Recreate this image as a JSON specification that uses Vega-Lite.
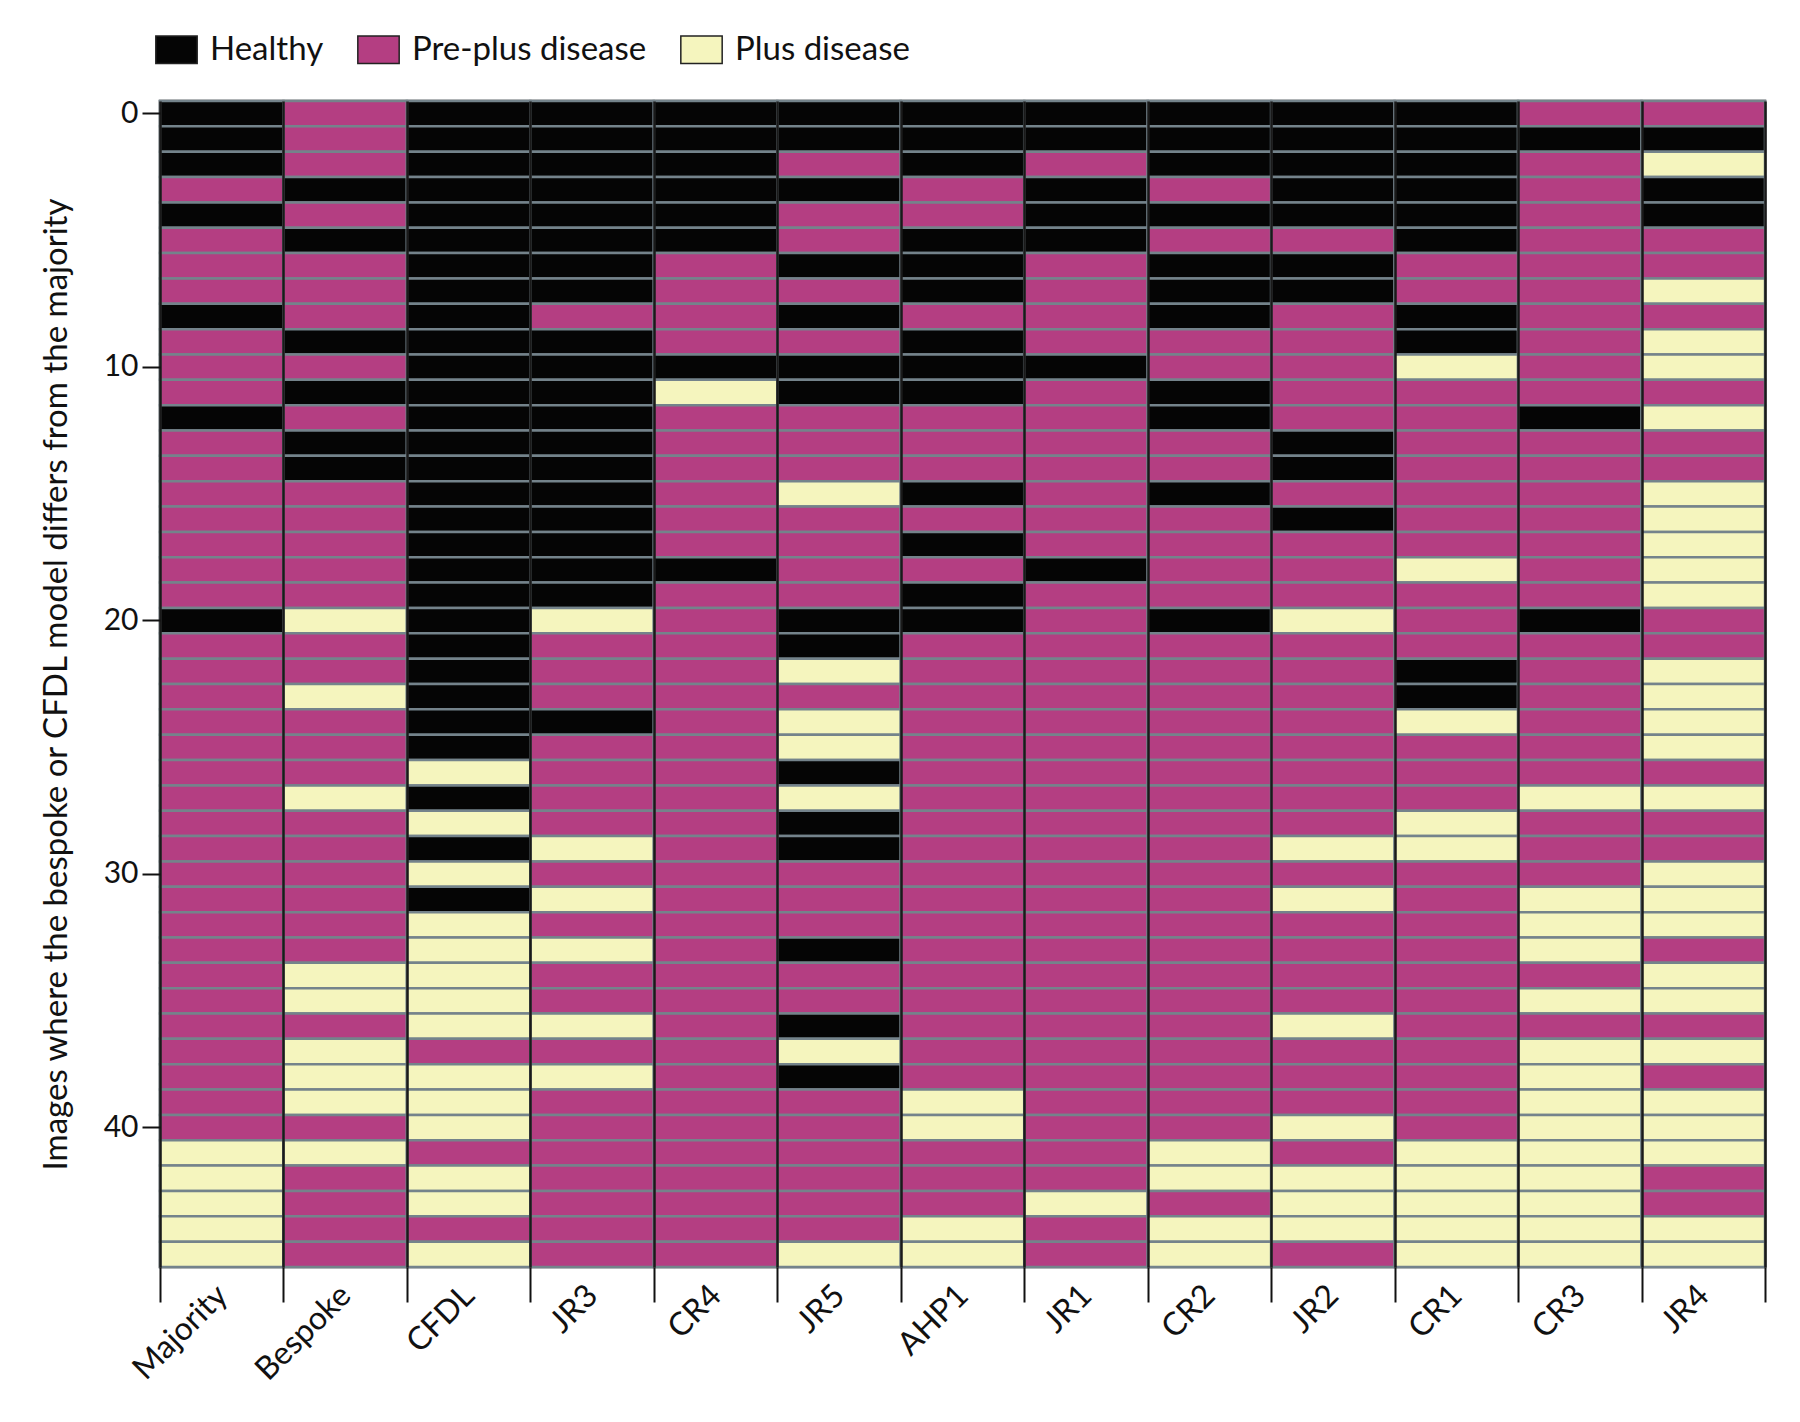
{
"$schema": "https://vega.github.io/schema/vega-lite/v6.json",
"autosize": "none",
"width": 1605,
"height": 1166,
"padding": {"left": 160, "top": 101, "right": 35, "bottom": 155},
"background": "white",
"config": {"font": "Lato", "view": {"stroke": "#1a1a1a", "strokeWidth": 2.5}},
"data": {"values": [
{"m":"Majority","i":0,"g":"H"},{"m":"Majority","i":1,"g":"H"},{"m":"Majority","i":2,"g":"H"},{"m":"Majority","i":3,"g":"P"},{"m":"Majority","i":4,"g":"H"},{"m":"Majority","i":5,"g":"P"},{"m":"Majority","i":6,"g":"P"},{"m":"Majority","i":7,"g":"P"},{"m":"Majority","i":8,"g":"H"},{"m":"Majority","i":9,"g":"P"},{"m":"Majority","i":10,"g":"P"},{"m":"Majority","i":11,"g":"P"},{"m":"Majority","i":12,"g":"H"},{"m":"Majority","i":13,"g":"P"},{"m":"Majority","i":14,"g":"P"},{"m":"Majority","i":15,"g":"P"},{"m":"Majority","i":16,"g":"P"},{"m":"Majority","i":17,"g":"P"},{"m":"Majority","i":18,"g":"P"},{"m":"Majority","i":19,"g":"P"},{"m":"Majority","i":20,"g":"H"},{"m":"Majority","i":21,"g":"P"},{"m":"Majority","i":22,"g":"P"},{"m":"Majority","i":23,"g":"P"},{"m":"Majority","i":24,"g":"P"},{"m":"Majority","i":25,"g":"P"},{"m":"Majority","i":26,"g":"P"},{"m":"Majority","i":27,"g":"P"},{"m":"Majority","i":28,"g":"P"},{"m":"Majority","i":29,"g":"P"},{"m":"Majority","i":30,"g":"P"},{"m":"Majority","i":31,"g":"P"},{"m":"Majority","i":32,"g":"P"},{"m":"Majority","i":33,"g":"P"},{"m":"Majority","i":34,"g":"P"},{"m":"Majority","i":35,"g":"P"},{"m":"Majority","i":36,"g":"P"},{"m":"Majority","i":37,"g":"P"},{"m":"Majority","i":38,"g":"P"},{"m":"Majority","i":39,"g":"P"},{"m":"Majority","i":40,"g":"P"},{"m":"Majority","i":41,"g":"L"},{"m":"Majority","i":42,"g":"L"},{"m":"Majority","i":43,"g":"L"},{"m":"Majority","i":44,"g":"L"},{"m":"Majority","i":45,"g":"L"},
{"m":"Bespoke","i":0,"g":"P"},{"m":"Bespoke","i":1,"g":"P"},{"m":"Bespoke","i":2,"g":"P"},{"m":"Bespoke","i":3,"g":"H"},{"m":"Bespoke","i":4,"g":"P"},{"m":"Bespoke","i":5,"g":"H"},{"m":"Bespoke","i":6,"g":"P"},{"m":"Bespoke","i":7,"g":"P"},{"m":"Bespoke","i":8,"g":"P"},{"m":"Bespoke","i":9,"g":"H"},{"m":"Bespoke","i":10,"g":"P"},{"m":"Bespoke","i":11,"g":"H"},{"m":"Bespoke","i":12,"g":"P"},{"m":"Bespoke","i":13,"g":"H"},{"m":"Bespoke","i":14,"g":"H"},{"m":"Bespoke","i":15,"g":"P"},{"m":"Bespoke","i":16,"g":"P"},{"m":"Bespoke","i":17,"g":"P"},{"m":"Bespoke","i":18,"g":"P"},{"m":"Bespoke","i":19,"g":"P"},{"m":"Bespoke","i":20,"g":"L"},{"m":"Bespoke","i":21,"g":"P"},{"m":"Bespoke","i":22,"g":"P"},{"m":"Bespoke","i":23,"g":"L"},{"m":"Bespoke","i":24,"g":"P"},{"m":"Bespoke","i":25,"g":"P"},{"m":"Bespoke","i":26,"g":"P"},{"m":"Bespoke","i":27,"g":"L"},{"m":"Bespoke","i":28,"g":"P"},{"m":"Bespoke","i":29,"g":"P"},{"m":"Bespoke","i":30,"g":"P"},{"m":"Bespoke","i":31,"g":"P"},{"m":"Bespoke","i":32,"g":"P"},{"m":"Bespoke","i":33,"g":"P"},{"m":"Bespoke","i":34,"g":"L"},{"m":"Bespoke","i":35,"g":"L"},{"m":"Bespoke","i":36,"g":"P"},{"m":"Bespoke","i":37,"g":"L"},{"m":"Bespoke","i":38,"g":"L"},{"m":"Bespoke","i":39,"g":"L"},{"m":"Bespoke","i":40,"g":"P"},{"m":"Bespoke","i":41,"g":"L"},{"m":"Bespoke","i":42,"g":"P"},{"m":"Bespoke","i":43,"g":"P"},{"m":"Bespoke","i":44,"g":"P"},{"m":"Bespoke","i":45,"g":"P"},
{"m":"CFDL","i":0,"g":"H"},{"m":"CFDL","i":1,"g":"H"},{"m":"CFDL","i":2,"g":"H"},{"m":"CFDL","i":3,"g":"H"},{"m":"CFDL","i":4,"g":"H"},{"m":"CFDL","i":5,"g":"H"},{"m":"CFDL","i":6,"g":"H"},{"m":"CFDL","i":7,"g":"H"},{"m":"CFDL","i":8,"g":"H"},{"m":"CFDL","i":9,"g":"H"},{"m":"CFDL","i":10,"g":"H"},{"m":"CFDL","i":11,"g":"H"},{"m":"CFDL","i":12,"g":"H"},{"m":"CFDL","i":13,"g":"H"},{"m":"CFDL","i":14,"g":"H"},{"m":"CFDL","i":15,"g":"H"},{"m":"CFDL","i":16,"g":"H"},{"m":"CFDL","i":17,"g":"H"},{"m":"CFDL","i":18,"g":"H"},{"m":"CFDL","i":19,"g":"H"},{"m":"CFDL","i":20,"g":"H"},{"m":"CFDL","i":21,"g":"H"},{"m":"CFDL","i":22,"g":"H"},{"m":"CFDL","i":23,"g":"H"},{"m":"CFDL","i":24,"g":"H"},{"m":"CFDL","i":25,"g":"H"},{"m":"CFDL","i":26,"g":"L"},{"m":"CFDL","i":27,"g":"H"},{"m":"CFDL","i":28,"g":"L"},{"m":"CFDL","i":29,"g":"H"},{"m":"CFDL","i":30,"g":"L"},{"m":"CFDL","i":31,"g":"H"},{"m":"CFDL","i":32,"g":"L"},{"m":"CFDL","i":33,"g":"L"},{"m":"CFDL","i":34,"g":"L"},{"m":"CFDL","i":35,"g":"L"},{"m":"CFDL","i":36,"g":"L"},{"m":"CFDL","i":37,"g":"P"},{"m":"CFDL","i":38,"g":"L"},{"m":"CFDL","i":39,"g":"L"},{"m":"CFDL","i":40,"g":"L"},{"m":"CFDL","i":41,"g":"P"},{"m":"CFDL","i":42,"g":"L"},{"m":"CFDL","i":43,"g":"L"},{"m":"CFDL","i":44,"g":"P"},{"m":"CFDL","i":45,"g":"L"},
{"m":"JR3","i":0,"g":"H"},{"m":"JR3","i":1,"g":"H"},{"m":"JR3","i":2,"g":"H"},{"m":"JR3","i":3,"g":"H"},{"m":"JR3","i":4,"g":"H"},{"m":"JR3","i":5,"g":"H"},{"m":"JR3","i":6,"g":"H"},{"m":"JR3","i":7,"g":"H"},{"m":"JR3","i":8,"g":"P"},{"m":"JR3","i":9,"g":"H"},{"m":"JR3","i":10,"g":"H"},{"m":"JR3","i":11,"g":"H"},{"m":"JR3","i":12,"g":"H"},{"m":"JR3","i":13,"g":"H"},{"m":"JR3","i":14,"g":"H"},{"m":"JR3","i":15,"g":"H"},{"m":"JR3","i":16,"g":"H"},{"m":"JR3","i":17,"g":"H"},{"m":"JR3","i":18,"g":"H"},{"m":"JR3","i":19,"g":"H"},{"m":"JR3","i":20,"g":"L"},{"m":"JR3","i":21,"g":"P"},{"m":"JR3","i":22,"g":"P"},{"m":"JR3","i":23,"g":"P"},{"m":"JR3","i":24,"g":"H"},{"m":"JR3","i":25,"g":"P"},{"m":"JR3","i":26,"g":"P"},{"m":"JR3","i":27,"g":"P"},{"m":"JR3","i":28,"g":"P"},{"m":"JR3","i":29,"g":"L"},{"m":"JR3","i":30,"g":"P"},{"m":"JR3","i":31,"g":"L"},{"m":"JR3","i":32,"g":"P"},{"m":"JR3","i":33,"g":"L"},{"m":"JR3","i":34,"g":"P"},{"m":"JR3","i":35,"g":"P"},{"m":"JR3","i":36,"g":"L"},{"m":"JR3","i":37,"g":"P"},{"m":"JR3","i":38,"g":"L"},{"m":"JR3","i":39,"g":"P"},{"m":"JR3","i":40,"g":"P"},{"m":"JR3","i":41,"g":"P"},{"m":"JR3","i":42,"g":"P"},{"m":"JR3","i":43,"g":"P"},{"m":"JR3","i":44,"g":"P"},{"m":"JR3","i":45,"g":"P"},
{"m":"CR4","i":0,"g":"H"},{"m":"CR4","i":1,"g":"H"},{"m":"CR4","i":2,"g":"H"},{"m":"CR4","i":3,"g":"H"},{"m":"CR4","i":4,"g":"H"},{"m":"CR4","i":5,"g":"H"},{"m":"CR4","i":6,"g":"P"},{"m":"CR4","i":7,"g":"P"},{"m":"CR4","i":8,"g":"P"},{"m":"CR4","i":9,"g":"P"},{"m":"CR4","i":10,"g":"H"},{"m":"CR4","i":11,"g":"L"},{"m":"CR4","i":12,"g":"P"},{"m":"CR4","i":13,"g":"P"},{"m":"CR4","i":14,"g":"P"},{"m":"CR4","i":15,"g":"P"},{"m":"CR4","i":16,"g":"P"},{"m":"CR4","i":17,"g":"P"},{"m":"CR4","i":18,"g":"H"},{"m":"CR4","i":19,"g":"P"},{"m":"CR4","i":20,"g":"P"},{"m":"CR4","i":21,"g":"P"},{"m":"CR4","i":22,"g":"P"},{"m":"CR4","i":23,"g":"P"},{"m":"CR4","i":24,"g":"P"},{"m":"CR4","i":25,"g":"P"},{"m":"CR4","i":26,"g":"P"},{"m":"CR4","i":27,"g":"P"},{"m":"CR4","i":28,"g":"P"},{"m":"CR4","i":29,"g":"P"},{"m":"CR4","i":30,"g":"P"},{"m":"CR4","i":31,"g":"P"},{"m":"CR4","i":32,"g":"P"},{"m":"CR4","i":33,"g":"P"},{"m":"CR4","i":34,"g":"P"},{"m":"CR4","i":35,"g":"P"},{"m":"CR4","i":36,"g":"P"},{"m":"CR4","i":37,"g":"P"},{"m":"CR4","i":38,"g":"P"},{"m":"CR4","i":39,"g":"P"},{"m":"CR4","i":40,"g":"P"},{"m":"CR4","i":41,"g":"P"},{"m":"CR4","i":42,"g":"P"},{"m":"CR4","i":43,"g":"P"},{"m":"CR4","i":44,"g":"P"},{"m":"CR4","i":45,"g":"P"},
{"m":"JR5","i":0,"g":"H"},{"m":"JR5","i":1,"g":"H"},{"m":"JR5","i":2,"g":"P"},{"m":"JR5","i":3,"g":"H"},{"m":"JR5","i":4,"g":"P"},{"m":"JR5","i":5,"g":"P"},{"m":"JR5","i":6,"g":"H"},{"m":"JR5","i":7,"g":"P"},{"m":"JR5","i":8,"g":"H"},{"m":"JR5","i":9,"g":"P"},{"m":"JR5","i":10,"g":"H"},{"m":"JR5","i":11,"g":"H"},{"m":"JR5","i":12,"g":"P"},{"m":"JR5","i":13,"g":"P"},{"m":"JR5","i":14,"g":"P"},{"m":"JR5","i":15,"g":"L"},{"m":"JR5","i":16,"g":"P"},{"m":"JR5","i":17,"g":"P"},{"m":"JR5","i":18,"g":"P"},{"m":"JR5","i":19,"g":"P"},{"m":"JR5","i":20,"g":"H"},{"m":"JR5","i":21,"g":"H"},{"m":"JR5","i":22,"g":"L"},{"m":"JR5","i":23,"g":"P"},{"m":"JR5","i":24,"g":"L"},{"m":"JR5","i":25,"g":"L"},{"m":"JR5","i":26,"g":"H"},{"m":"JR5","i":27,"g":"L"},{"m":"JR5","i":28,"g":"H"},{"m":"JR5","i":29,"g":"H"},{"m":"JR5","i":30,"g":"P"},{"m":"JR5","i":31,"g":"P"},{"m":"JR5","i":32,"g":"P"},{"m":"JR5","i":33,"g":"H"},{"m":"JR5","i":34,"g":"P"},{"m":"JR5","i":35,"g":"P"},{"m":"JR5","i":36,"g":"H"},{"m":"JR5","i":37,"g":"L"},{"m":"JR5","i":38,"g":"H"},{"m":"JR5","i":39,"g":"P"},{"m":"JR5","i":40,"g":"P"},{"m":"JR5","i":41,"g":"P"},{"m":"JR5","i":42,"g":"P"},{"m":"JR5","i":43,"g":"P"},{"m":"JR5","i":44,"g":"P"},{"m":"JR5","i":45,"g":"L"},
{"m":"AHP1","i":0,"g":"H"},{"m":"AHP1","i":1,"g":"H"},{"m":"AHP1","i":2,"g":"H"},{"m":"AHP1","i":3,"g":"P"},{"m":"AHP1","i":4,"g":"P"},{"m":"AHP1","i":5,"g":"H"},{"m":"AHP1","i":6,"g":"H"},{"m":"AHP1","i":7,"g":"H"},{"m":"AHP1","i":8,"g":"P"},{"m":"AHP1","i":9,"g":"H"},{"m":"AHP1","i":10,"g":"H"},{"m":"AHP1","i":11,"g":"H"},{"m":"AHP1","i":12,"g":"P"},{"m":"AHP1","i":13,"g":"P"},{"m":"AHP1","i":14,"g":"P"},{"m":"AHP1","i":15,"g":"H"},{"m":"AHP1","i":16,"g":"P"},{"m":"AHP1","i":17,"g":"H"},{"m":"AHP1","i":18,"g":"P"},{"m":"AHP1","i":19,"g":"H"},{"m":"AHP1","i":20,"g":"H"},{"m":"AHP1","i":21,"g":"P"},{"m":"AHP1","i":22,"g":"P"},{"m":"AHP1","i":23,"g":"P"},{"m":"AHP1","i":24,"g":"P"},{"m":"AHP1","i":25,"g":"P"},{"m":"AHP1","i":26,"g":"P"},{"m":"AHP1","i":27,"g":"P"},{"m":"AHP1","i":28,"g":"P"},{"m":"AHP1","i":29,"g":"P"},{"m":"AHP1","i":30,"g":"P"},{"m":"AHP1","i":31,"g":"P"},{"m":"AHP1","i":32,"g":"P"},{"m":"AHP1","i":33,"g":"P"},{"m":"AHP1","i":34,"g":"P"},{"m":"AHP1","i":35,"g":"P"},{"m":"AHP1","i":36,"g":"P"},{"m":"AHP1","i":37,"g":"P"},{"m":"AHP1","i":38,"g":"P"},{"m":"AHP1","i":39,"g":"L"},{"m":"AHP1","i":40,"g":"L"},{"m":"AHP1","i":41,"g":"P"},{"m":"AHP1","i":42,"g":"P"},{"m":"AHP1","i":43,"g":"P"},{"m":"AHP1","i":44,"g":"L"},{"m":"AHP1","i":45,"g":"L"},
{"m":"JR1","i":0,"g":"H"},{"m":"JR1","i":1,"g":"H"},{"m":"JR1","i":2,"g":"P"},{"m":"JR1","i":3,"g":"H"},{"m":"JR1","i":4,"g":"H"},{"m":"JR1","i":5,"g":"H"},{"m":"JR1","i":6,"g":"P"},{"m":"JR1","i":7,"g":"P"},{"m":"JR1","i":8,"g":"P"},{"m":"JR1","i":9,"g":"P"},{"m":"JR1","i":10,"g":"H"},{"m":"JR1","i":11,"g":"P"},{"m":"JR1","i":12,"g":"P"},{"m":"JR1","i":13,"g":"P"},{"m":"JR1","i":14,"g":"P"},{"m":"JR1","i":15,"g":"P"},{"m":"JR1","i":16,"g":"P"},{"m":"JR1","i":17,"g":"P"},{"m":"JR1","i":18,"g":"H"},{"m":"JR1","i":19,"g":"P"},{"m":"JR1","i":20,"g":"P"},{"m":"JR1","i":21,"g":"P"},{"m":"JR1","i":22,"g":"P"},{"m":"JR1","i":23,"g":"P"},{"m":"JR1","i":24,"g":"P"},{"m":"JR1","i":25,"g":"P"},{"m":"JR1","i":26,"g":"P"},{"m":"JR1","i":27,"g":"P"},{"m":"JR1","i":28,"g":"P"},{"m":"JR1","i":29,"g":"P"},{"m":"JR1","i":30,"g":"P"},{"m":"JR1","i":31,"g":"P"},{"m":"JR1","i":32,"g":"P"},{"m":"JR1","i":33,"g":"P"},{"m":"JR1","i":34,"g":"P"},{"m":"JR1","i":35,"g":"P"},{"m":"JR1","i":36,"g":"P"},{"m":"JR1","i":37,"g":"P"},{"m":"JR1","i":38,"g":"P"},{"m":"JR1","i":39,"g":"P"},{"m":"JR1","i":40,"g":"P"},{"m":"JR1","i":41,"g":"P"},{"m":"JR1","i":42,"g":"P"},{"m":"JR1","i":43,"g":"L"},{"m":"JR1","i":44,"g":"P"},{"m":"JR1","i":45,"g":"P"},
{"m":"CR2","i":0,"g":"H"},{"m":"CR2","i":1,"g":"H"},{"m":"CR2","i":2,"g":"H"},{"m":"CR2","i":3,"g":"P"},{"m":"CR2","i":4,"g":"H"},{"m":"CR2","i":5,"g":"P"},{"m":"CR2","i":6,"g":"H"},{"m":"CR2","i":7,"g":"H"},{"m":"CR2","i":8,"g":"H"},{"m":"CR2","i":9,"g":"P"},{"m":"CR2","i":10,"g":"P"},{"m":"CR2","i":11,"g":"H"},{"m":"CR2","i":12,"g":"H"},{"m":"CR2","i":13,"g":"P"},{"m":"CR2","i":14,"g":"P"},{"m":"CR2","i":15,"g":"H"},{"m":"CR2","i":16,"g":"P"},{"m":"CR2","i":17,"g":"P"},{"m":"CR2","i":18,"g":"P"},{"m":"CR2","i":19,"g":"P"},{"m":"CR2","i":20,"g":"H"},{"m":"CR2","i":21,"g":"P"},{"m":"CR2","i":22,"g":"P"},{"m":"CR2","i":23,"g":"P"},{"m":"CR2","i":24,"g":"P"},{"m":"CR2","i":25,"g":"P"},{"m":"CR2","i":26,"g":"P"},{"m":"CR2","i":27,"g":"P"},{"m":"CR2","i":28,"g":"P"},{"m":"CR2","i":29,"g":"P"},{"m":"CR2","i":30,"g":"P"},{"m":"CR2","i":31,"g":"P"},{"m":"CR2","i":32,"g":"P"},{"m":"CR2","i":33,"g":"P"},{"m":"CR2","i":34,"g":"P"},{"m":"CR2","i":35,"g":"P"},{"m":"CR2","i":36,"g":"P"},{"m":"CR2","i":37,"g":"P"},{"m":"CR2","i":38,"g":"P"},{"m":"CR2","i":39,"g":"P"},{"m":"CR2","i":40,"g":"P"},{"m":"CR2","i":41,"g":"L"},{"m":"CR2","i":42,"g":"L"},{"m":"CR2","i":43,"g":"P"},{"m":"CR2","i":44,"g":"L"},{"m":"CR2","i":45,"g":"L"},
{"m":"JR2","i":0,"g":"H"},{"m":"JR2","i":1,"g":"H"},{"m":"JR2","i":2,"g":"H"},{"m":"JR2","i":3,"g":"H"},{"m":"JR2","i":4,"g":"H"},{"m":"JR2","i":5,"g":"P"},{"m":"JR2","i":6,"g":"H"},{"m":"JR2","i":7,"g":"H"},{"m":"JR2","i":8,"g":"P"},{"m":"JR2","i":9,"g":"P"},{"m":"JR2","i":10,"g":"P"},{"m":"JR2","i":11,"g":"P"},{"m":"JR2","i":12,"g":"P"},{"m":"JR2","i":13,"g":"H"},{"m":"JR2","i":14,"g":"H"},{"m":"JR2","i":15,"g":"P"},{"m":"JR2","i":16,"g":"H"},{"m":"JR2","i":17,"g":"P"},{"m":"JR2","i":18,"g":"P"},{"m":"JR2","i":19,"g":"P"},{"m":"JR2","i":20,"g":"L"},{"m":"JR2","i":21,"g":"P"},{"m":"JR2","i":22,"g":"P"},{"m":"JR2","i":23,"g":"P"},{"m":"JR2","i":24,"g":"P"},{"m":"JR2","i":25,"g":"P"},{"m":"JR2","i":26,"g":"P"},{"m":"JR2","i":27,"g":"P"},{"m":"JR2","i":28,"g":"P"},{"m":"JR2","i":29,"g":"L"},{"m":"JR2","i":30,"g":"P"},{"m":"JR2","i":31,"g":"L"},{"m":"JR2","i":32,"g":"P"},{"m":"JR2","i":33,"g":"P"},{"m":"JR2","i":34,"g":"P"},{"m":"JR2","i":35,"g":"P"},{"m":"JR2","i":36,"g":"L"},{"m":"JR2","i":37,"g":"P"},{"m":"JR2","i":38,"g":"P"},{"m":"JR2","i":39,"g":"P"},{"m":"JR2","i":40,"g":"L"},{"m":"JR2","i":41,"g":"P"},{"m":"JR2","i":42,"g":"L"},{"m":"JR2","i":43,"g":"L"},{"m":"JR2","i":44,"g":"L"},{"m":"JR2","i":45,"g":"P"},
{"m":"CR1","i":0,"g":"H"},{"m":"CR1","i":1,"g":"H"},{"m":"CR1","i":2,"g":"H"},{"m":"CR1","i":3,"g":"H"},{"m":"CR1","i":4,"g":"H"},{"m":"CR1","i":5,"g":"H"},{"m":"CR1","i":6,"g":"P"},{"m":"CR1","i":7,"g":"P"},{"m":"CR1","i":8,"g":"H"},{"m":"CR1","i":9,"g":"H"},{"m":"CR1","i":10,"g":"L"},{"m":"CR1","i":11,"g":"P"},{"m":"CR1","i":12,"g":"P"},{"m":"CR1","i":13,"g":"P"},{"m":"CR1","i":14,"g":"P"},{"m":"CR1","i":15,"g":"P"},{"m":"CR1","i":16,"g":"P"},{"m":"CR1","i":17,"g":"P"},{"m":"CR1","i":18,"g":"L"},{"m":"CR1","i":19,"g":"P"},{"m":"CR1","i":20,"g":"P"},{"m":"CR1","i":21,"g":"P"},{"m":"CR1","i":22,"g":"H"},{"m":"CR1","i":23,"g":"H"},{"m":"CR1","i":24,"g":"L"},{"m":"CR1","i":25,"g":"P"},{"m":"CR1","i":26,"g":"P"},{"m":"CR1","i":27,"g":"P"},{"m":"CR1","i":28,"g":"L"},{"m":"CR1","i":29,"g":"L"},{"m":"CR1","i":30,"g":"P"},{"m":"CR1","i":31,"g":"P"},{"m":"CR1","i":32,"g":"P"},{"m":"CR1","i":33,"g":"P"},{"m":"CR1","i":34,"g":"P"},{"m":"CR1","i":35,"g":"P"},{"m":"CR1","i":36,"g":"P"},{"m":"CR1","i":37,"g":"P"},{"m":"CR1","i":38,"g":"P"},{"m":"CR1","i":39,"g":"P"},{"m":"CR1","i":40,"g":"P"},{"m":"CR1","i":41,"g":"L"},{"m":"CR1","i":42,"g":"L"},{"m":"CR1","i":43,"g":"L"},{"m":"CR1","i":44,"g":"L"},{"m":"CR1","i":45,"g":"L"},
{"m":"CR3","i":0,"g":"P"},{"m":"CR3","i":1,"g":"H"},{"m":"CR3","i":2,"g":"P"},{"m":"CR3","i":3,"g":"P"},{"m":"CR3","i":4,"g":"P"},{"m":"CR3","i":5,"g":"P"},{"m":"CR3","i":6,"g":"P"},{"m":"CR3","i":7,"g":"P"},{"m":"CR3","i":8,"g":"P"},{"m":"CR3","i":9,"g":"P"},{"m":"CR3","i":10,"g":"P"},{"m":"CR3","i":11,"g":"P"},{"m":"CR3","i":12,"g":"H"},{"m":"CR3","i":13,"g":"P"},{"m":"CR3","i":14,"g":"P"},{"m":"CR3","i":15,"g":"P"},{"m":"CR3","i":16,"g":"P"},{"m":"CR3","i":17,"g":"P"},{"m":"CR3","i":18,"g":"P"},{"m":"CR3","i":19,"g":"P"},{"m":"CR3","i":20,"g":"H"},{"m":"CR3","i":21,"g":"P"},{"m":"CR3","i":22,"g":"P"},{"m":"CR3","i":23,"g":"P"},{"m":"CR3","i":24,"g":"P"},{"m":"CR3","i":25,"g":"P"},{"m":"CR3","i":26,"g":"P"},{"m":"CR3","i":27,"g":"L"},{"m":"CR3","i":28,"g":"P"},{"m":"CR3","i":29,"g":"P"},{"m":"CR3","i":30,"g":"P"},{"m":"CR3","i":31,"g":"L"},{"m":"CR3","i":32,"g":"L"},{"m":"CR3","i":33,"g":"L"},{"m":"CR3","i":34,"g":"P"},{"m":"CR3","i":35,"g":"L"},{"m":"CR3","i":36,"g":"P"},{"m":"CR3","i":37,"g":"L"},{"m":"CR3","i":38,"g":"L"},{"m":"CR3","i":39,"g":"L"},{"m":"CR3","i":40,"g":"L"},{"m":"CR3","i":41,"g":"L"},{"m":"CR3","i":42,"g":"L"},{"m":"CR3","i":43,"g":"L"},{"m":"CR3","i":44,"g":"L"},{"m":"CR3","i":45,"g":"L"},
{"m":"JR4","i":0,"g":"P"},{"m":"JR4","i":1,"g":"H"},{"m":"JR4","i":2,"g":"L"},{"m":"JR4","i":3,"g":"H"},{"m":"JR4","i":4,"g":"H"},{"m":"JR4","i":5,"g":"P"},{"m":"JR4","i":6,"g":"P"},{"m":"JR4","i":7,"g":"L"},{"m":"JR4","i":8,"g":"P"},{"m":"JR4","i":9,"g":"L"},{"m":"JR4","i":10,"g":"L"},{"m":"JR4","i":11,"g":"P"},{"m":"JR4","i":12,"g":"L"},{"m":"JR4","i":13,"g":"P"},{"m":"JR4","i":14,"g":"P"},{"m":"JR4","i":15,"g":"L"},{"m":"JR4","i":16,"g":"L"},{"m":"JR4","i":17,"g":"L"},{"m":"JR4","i":18,"g":"L"},{"m":"JR4","i":19,"g":"L"},{"m":"JR4","i":20,"g":"P"},{"m":"JR4","i":21,"g":"P"},{"m":"JR4","i":22,"g":"L"},{"m":"JR4","i":23,"g":"L"},{"m":"JR4","i":24,"g":"L"},{"m":"JR4","i":25,"g":"L"},{"m":"JR4","i":26,"g":"P"},{"m":"JR4","i":27,"g":"L"},{"m":"JR4","i":28,"g":"P"},{"m":"JR4","i":29,"g":"P"},{"m":"JR4","i":30,"g":"L"},{"m":"JR4","i":31,"g":"L"},{"m":"JR4","i":32,"g":"L"},{"m":"JR4","i":33,"g":"P"},{"m":"JR4","i":34,"g":"L"},{"m":"JR4","i":35,"g":"L"},{"m":"JR4","i":36,"g":"P"},{"m":"JR4","i":37,"g":"L"},{"m":"JR4","i":38,"g":"P"},{"m":"JR4","i":39,"g":"L"},{"m":"JR4","i":40,"g":"L"},{"m":"JR4","i":41,"g":"L"},{"m":"JR4","i":42,"g":"P"},{"m":"JR4","i":43,"g":"P"},{"m":"JR4","i":44,"g":"L"},{"m":"JR4","i":45,"g":"L"}
]},
"mark": {"type": "rect", "stroke": "#74838b", "strokeWidth": 2.5},
"encoding": {
  "x": {"field": "m", "type": "nominal",
    "sort": ["Majority","Bespoke","CFDL","JR3","CR4","JR5","AHP1","JR1","CR2","JR2","CR1","CR3","JR4"],
    "scale": {"paddingInner": 0, "paddingOuter": 0},
    "axis": {"title": null, "labelAngle": -45, "labelAlign": "right", "labelBaseline": "middle", "labelFontSize": 32, "labelColor": "#111", "labelPadding": -12,
      "tickBand": "extent", "tickSize": 35, "tickColor": "#111", "tickWidth": 2,
      "grid": true, "gridColor": "#1a1a1a", "gridWidth": 2.5, "zindex": 1, "domain": false}},
  "y": {"field": "i", "type": "ordinal", "sort": "ascending",
    "scale": {"paddingInner": 0, "paddingOuter": 0},
    "axis": {"values": [0,10,20,30,40], "labelAngle": 0, "labelFontSize": 30, "labelColor": "#111", "tickSize": 18, "tickColor": "#111", "tickWidth": 2, "labelPadding": 4,
      "domain": false, "grid": false,
      "title": "Images where the bespoke or CFDL model differs from the majority", "titleFontSize": 33, "titleFontWeight": "normal", "titleColor": "#111", "titlePadding": 30}},
  "color": {"field": "g", "type": "nominal",
    "scale": {"domain": ["H","P","L"], "range": ["#050505","#b43e82","#f5f5be"]},
    "legend": {"orient": "none", "legendX": 0, "legendY": -68, "direction": "horizontal", "title": null,
      "symbolType": "M-1.5,-1H1.5V1H-1.5Z", "symbolSize": 760, "symbolStrokeColor": "#222", "symbolStrokeWidth": 1.5, "symbolOpacity": 1,
      "labelFontSize": 33, "labelColor": "#111", "labelOffset": 17, "labelLimit": 0, "columnPadding": 30,
      "labelExpr": "datum.label == 'H' ? 'Healthy' : datum.label == 'P' ? 'Pre-plus disease' : 'Plus disease'"}}
}
}
